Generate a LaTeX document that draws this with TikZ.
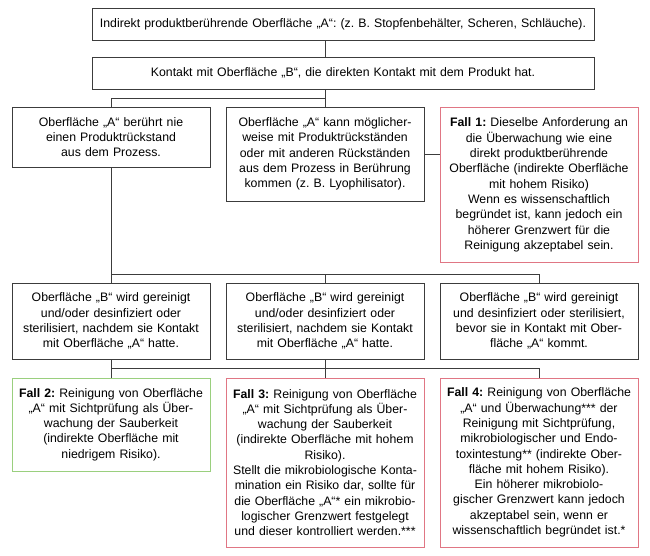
\documentclass[tikz,border=0pt]{standalone}
\usepackage{fontspec}
\setmainfont{Liberation Sans}
\frenchspacing
\definecolor{lineC}{HTML}{3C3C3C}
\definecolor{redC}{HTML}{E07684}
\definecolor{greenC}{HTML}{9ACF7E}
\begin{document}
\begin{tikzpicture}[x=1pt,y=-1pt,
  box/.style={draw=lineC, line width=0.9pt, inner xsep=0pt, inner ysep=0pt, align=center,
    font=\fontsize{12.3}{15.3}\selectfont\frenchspacing},
  redbox/.style={box, draw=redC},
  greenbox/.style={box, draw=greenC},
  conn/.style={draw=lineC, line width=0.9pt}]
\useasboundingbox (0,0) rectangle (650,556);

\node[box, text width=502pt, minimum height=32pt] (b1) at (343,24)
  {Indirekt produktberührende Oberfläche „A“: (z. B. Stopfenbehälter, Scheren, Schläuche).};
\node[box, text width=502pt, minimum height=32pt] (b2) at (343,73)
  {Kontakt mit Oberfläche „B“, die direkten Kontakt mit dem Produkt hat.};

\node[box, text width=198pt, minimum height=60pt] (r2a) at (111,137)
  {Oberfläche „A“ berührt nie\\einen Produktrückstand\\aus dem Prozess.};
\node[box, text width=198pt, minimum height=94pt] (r2b) at (325,154)
  {Oberfläche „A“ kann möglicher-\\weise mit Produktrückständen\\oder mit anderen Rückständen\\aus dem Prozess in Berührung\\kommen (z. B. Lyophilisator).};
\node[redbox, text width=198pt, minimum height=155pt] (f1) at (539,185)
  {\textbf{Fall 1:} Dieselbe Anforderung an\\die Überwachung wie eine\\direkt produktberührende\\Oberfläche (indirekte Oberfläche\\mit hohem Risiko)\\Wenn es wissenschaftlich\\begründet ist, kann jedoch ein\\höherer Grenzwert für die\\Reinigung akzeptabel sein.};

\node[box, text width=198pt, minimum height=76pt] (r3a) at (111,321)
  {Oberfläche „B“ wird gereinigt\\und/oder desinfiziert oder\\sterilisiert, nachdem sie Kontakt\\mit Oberfläche „A“ hatte.};
\node[box, text width=198pt, minimum height=76pt] (r3b) at (325,321)
  {Oberfläche „B“ wird gereinigt\\und/oder desinfiziert oder\\sterilisiert, nachdem sie Kontakt\\mit Oberfläche „A“ hatte.};
\node[box, text width=198pt, minimum height=76pt] (r3c) at (539,321)
  {Oberfläche „B“ wird gereinigt\\und desinfiziert oder sterilisiert,\\bevor sie in Kontakt mit Ober-\\fläche „A“ kommt.};

\node[greenbox, text width=198pt, minimum height=93pt] (f2) at (111,424.5)
  {\textbf{Fall 2:} Reinigung von Oberfläche\\„A“ mit Sichtprüfung als Über-\\wachung der Sauberkeit\\(indirekte Oberfläche mit\\niedrigem Risiko).};
\node[redbox, text width=198pt, minimum height=169pt] (f3) at (325,462.5)
  {\textbf{Fall 3:} Reinigung von Oberfläche\\„A“ mit Sichtprüfung als Über-\\wachung der Sauberkeit\\(indirekte Oberfläche mit hohem\\Risiko).\\Stellt die mikrobiologische Konta-\\mination ein Risiko dar, sollte für\\die Oberfläche „A“* ein mikrobio-\\logischer Grenzwert festgelegt\\und dieser kontrolliert werden.***};
\node[redbox, text width=198pt, minimum height=169pt] (f4) at (539,462.5)
  {\textbf{Fall 4:} Reinigung von Oberfläche\\„A“ und Überwachung*** der\\Reinigung mit Sichtprüfung,\\mikrobiologischer und Endo-\\toxintestung** (indirekte Ober-\\fläche mit hohem Risiko).\\Ein höherer mikrobiolo-\\gischer Grenzwert kann jedoch\\akzeptabel sein, wenn er\\wissenschaftlich begründet ist.*};

\coordinate (h1) at (0,98);
\coordinate (h2) at (0,274);
\coordinate (h3) at (0,368);

\draw[conn] (b1.south -| r2b.north) -- (b2.north -| r2b.north);
\draw[conn] (b2.south -| r2b.north) -- (r2b.north);
\draw[conn] (r2a.north) |- (r2b.north |- h1);
\draw[conn] (r2b.east) -- (r2b.east -| f1.west);

\draw[conn] (r2a.south) -- (r3a.north);
\draw[conn] (r3a.north |- h2) -| (r3c.north);
\draw[conn] (r3b.north |- h2) -- (r3b.north);

\draw[conn] (r3a.south) -- (f2.north);
\draw[conn] (r3a.south |- h3) -| (f4.north);
\draw[conn] (r3b.south) -- (f3.north);
\end{tikzpicture}
\end{document}
